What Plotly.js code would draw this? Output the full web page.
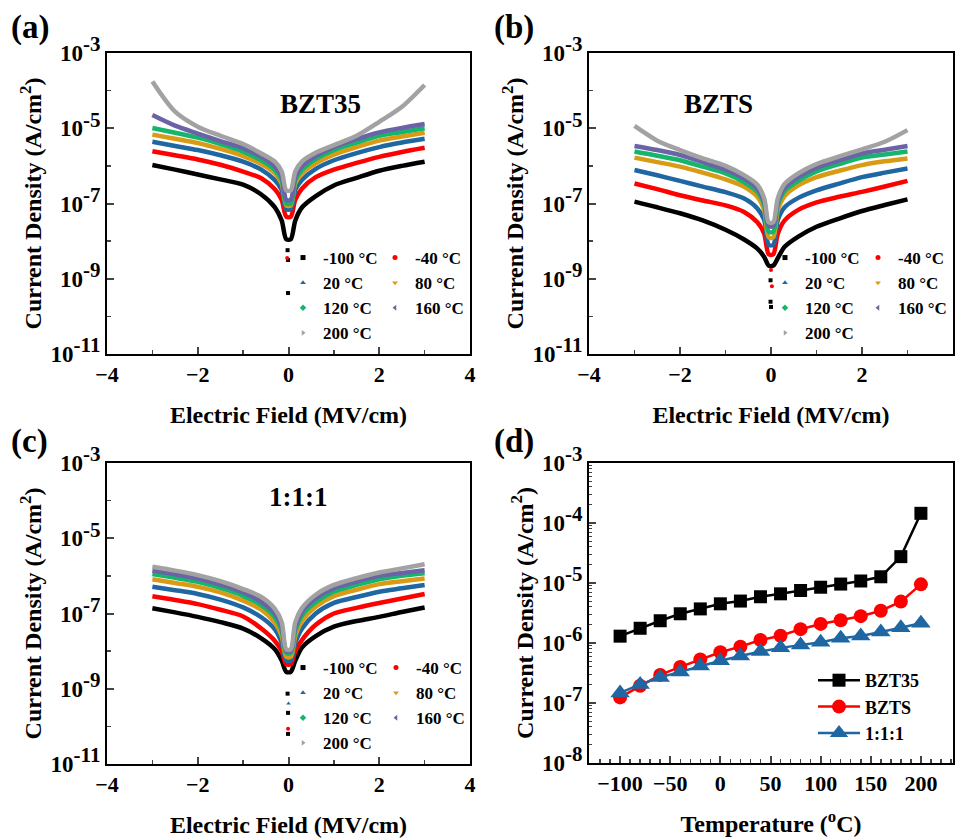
<!DOCTYPE html>
<html><head><meta charset="utf-8">
<script src="https://cdn.plot.ly/plotly-3.0.1.min.js"></script>
<style>body{margin:0;background:#fff}#chart{width:955px;height:840px}</style>
</head><body><div id="chart"></div>
<script>
// ---------- data ----------
const temps = ["-100 °C","-40 °C","20 °C","80 °C","120 °C","160 °C","200 °C"];
const fieldE = [-3,-2.5,-2,-1.5,-1,-0.6,-0.3,-0.15,-0.05,0.05,0.15,0.3,0.6,1,1.5,2,2.5,3];

// (a) BZT35
const jA_m100 = [1.05e-6,7.94e-7,5.89e-7,4.37e-7,3.16e-7,1.74e-7,7.94e-8,3.55e-8,1.12e-8,1.12e-8,3.55e-8,7.94e-8,1.58e-7,3.02e-7,4.79e-7,7.41e-7,1.0e-6,1.29e-6];
const jA_m40  = [2.45e-6,1.91e-6,1.48e-6,1.07e-6,7.08e-7,4.68e-7,2.40e-7,1.26e-7,4.47e-8,4.47e-8,1.26e-7,2.51e-7,5.01e-7,7.94e-7,1.20e-6,1.74e-6,2.34e-6,3.02e-6];
const jA_20   = [4.37e-6,3.39e-6,2.63e-6,1.91e-6,1.29e-6,7.94e-7,4.17e-7,2.29e-7,7.08e-8,7.08e-8,2.29e-7,4.27e-7,8.32e-7,1.41e-6,2.19e-6,3.16e-6,4.17e-6,5.25e-6];
const jA_80   = [6.76e-6,5.25e-6,4.07e-6,2.82e-6,1.82e-6,1.12e-6,6.31e-7,3.39e-7,8.91e-8,8.91e-8,3.39e-7,6.31e-7,1.17e-6,2.0e-6,3.16e-6,4.68e-6,6.03e-6,7.59e-6];
const jA_120  = [1.02e-5,7.59e-6,5.62e-6,3.80e-6,2.40e-6,1.41e-6,7.76e-7,4.17e-7,1.0e-7,1.0e-7,4.17e-7,7.94e-7,1.51e-6,2.63e-6,4.17e-6,6.31e-6,7.94e-6,1.0e-5];
const jA_160  = [2.24e-5,1.17e-5,7.24e-6,4.57e-6,2.95e-6,1.74e-6,9.55e-7,5.13e-7,1.26e-7,1.26e-7,5.13e-7,1.0e-6,1.82e-6,3.16e-6,5.13e-6,7.76e-6,1.02e-5,1.29e-5];
const jA_200  = [1.74e-4,2.75e-5,1.10e-5,6.31e-6,3.80e-6,2.14e-6,1.29e-6,7.08e-7,2.24e-7,2.24e-7,7.08e-7,1.32e-6,2.24e-6,3.55e-6,6.31e-6,1.48e-5,3.72e-5,1.41e-4];
const strayA_E = [-0.02,-0.01,-0.01,-0.03];
const strayA_J = [5.75e-9,3.16e-9,4.17e-10,3.55e-9];
const strayA_T = [0,0,0,1];

// (b) BZTS
const jB_m100 = [1.12e-7,7.94e-8,5.50e-8,3.55e-8,2.0e-8,1.12e-8,6.31e-9,3.80e-9,2.24e-9,2.24e-9,3.55e-9,7.08e-9,1.32e-8,2.40e-8,3.98e-8,6.31e-8,9.12e-8,1.29e-7];
const jB_m40  = [3.39e-7,2.40e-7,1.66e-7,1.20e-7,8.91e-8,6.03e-8,3.16e-8,1.58e-8,4.47e-9,4.47e-9,1.58e-8,3.55e-8,6.76e-8,1.07e-7,1.51e-7,2.04e-7,2.82e-7,3.98e-7];
const jB_20   = [7.76e-7,5.62e-7,3.98e-7,2.82e-7,2.0e-7,1.38e-7,7.41e-8,3.63e-8,7.94e-9,7.94e-9,3.63e-8,7.94e-8,1.41e-7,2.24e-7,3.39e-7,5.01e-7,6.61e-7,8.51e-7];
const jB_80   = [1.66e-6,1.26e-6,9.55e-7,6.61e-7,4.37e-7,2.82e-7,1.51e-7,6.61e-8,1.26e-8,1.26e-8,6.61e-8,1.58e-7,3.02e-7,5.01e-7,7.41e-7,1.05e-6,1.32e-6,1.58e-6];
const jB_120  = [2.40e-6,1.86e-6,1.41e-6,9.55e-7,6.31e-7,3.72e-7,2.04e-7,9.12e-8,1.78e-8,1.78e-8,9.12e-8,2.14e-7,3.98e-7,7.08e-7,1.12e-6,1.66e-6,2.0e-6,2.40e-6];
const jB_160  = [3.39e-6,2.63e-6,1.95e-6,1.26e-6,7.94e-7,4.68e-7,2.51e-7,1.12e-7,2.51e-8,2.51e-8,1.12e-7,2.63e-7,5.01e-7,8.91e-7,1.41e-6,2.14e-6,2.69e-6,3.39e-6];
const jB_200  = [1.15e-5,4.68e-6,2.63e-6,1.58e-6,1.0e-6,5.75e-7,3.16e-7,1.38e-7,3.16e-8,3.16e-8,1.38e-7,3.31e-7,6.31e-7,1.12e-6,1.78e-6,2.75e-6,4.37e-6,8.91e-6];
const strayB_E = [-0.01,-0.01,0.0,0.0,0.02];
const strayB_J = [9.12e-10,2.45e-10,1.78e-10,1.70e-9,6.31e-10];
const strayB_T = [0,0,0,1,1];

// (c) 1:1:1
const jC_m100 = [1.38e-7,1.07e-7,8.13e-8,5.89e-8,3.98e-8,2.19e-8,1.12e-8,5.62e-9,2.82e-9,2.82e-9,5.62e-9,1.26e-8,2.51e-8,4.47e-8,6.31e-8,8.13e-8,1.10e-7,1.45e-7];
const jC_m40  = [2.88e-7,2.29e-7,1.78e-7,1.26e-7,8.32e-8,3.98e-8,1.86e-8,1.0e-8,4.47e-9,4.47e-9,1.0e-8,2.0e-8,5.01e-8,1.0e-7,1.41e-7,1.91e-7,2.51e-7,3.31e-7];
const jC_20   = [5.13e-7,4.17e-7,3.31e-7,2.34e-7,1.45e-7,7.94e-8,3.80e-8,1.66e-8,5.62e-9,5.62e-9,1.66e-8,3.98e-8,1.0e-7,1.91e-7,2.75e-7,3.80e-7,4.68e-7,5.75e-7];
const jC_80   = [8.13e-7,6.46e-7,5.13e-7,3.63e-7,2.19e-7,1.26e-7,5.75e-8,2.51e-8,7.08e-9,7.08e-9,2.51e-8,6.31e-8,1.51e-7,2.88e-7,4.27e-7,6.03e-7,7.24e-7,8.51e-7];
const jC_120  = [1.12e-6,8.91e-7,6.92e-7,4.79e-7,2.95e-7,1.66e-7,7.94e-8,3.47e-8,8.91e-9,8.91e-9,3.47e-8,8.91e-8,2.0e-7,3.80e-7,5.75e-7,8.13e-7,1.0e-6,1.17e-6];
const jC_160  = [1.38e-6,1.10e-6,8.51e-7,5.89e-7,3.63e-7,2.04e-7,1.0e-7,4.37e-8,1.0e-8,1.0e-8,4.37e-8,1.12e-7,2.51e-7,4.68e-7,7.08e-7,1.0e-6,1.20e-6,1.41e-6];
const jC_200  = [1.74e-6,1.38e-6,1.05e-6,7.24e-7,4.47e-7,2.75e-7,1.32e-7,5.89e-8,1.12e-8,1.12e-8,5.89e-8,1.41e-7,3.16e-7,5.75e-7,8.71e-7,1.23e-6,1.58e-6,2.04e-6];
const strayC_E = [-0.02,-0.01,-0.01,-0.01,0.0];
const strayC_J = [7.41e-10,2.29e-10,6.31e-11,8.71e-11,4.07e-10];
const strayC_T = [0,0,0,1,2];

// (d) leakage vs temperature
const tempC  = [-100,-80,-60,-40,-20,0,20,40,60,80,100,120,140,160,180,200];
const dBZT35 = [1.3e-6,1.76e-6,2.35e-6,3.07e-6,3.7e-6,4.5e-6,5.0e-6,5.9e-6,6.6e-6,7.5e-6,8.5e-6,9.6e-6,1.08e-5,1.27e-5,2.75e-5,1.45e-4];
const dBZTS  = [1.24e-7,1.94e-7,2.94e-7,4.0e-7,5.3e-7,7.0e-7,8.7e-7,1.12e-6,1.32e-6,1.7e-6,2.08e-6,2.4e-6,2.8e-6,3.45e-6,4.9e-6,9.5e-6];
const d111   = [1.47e-7,2.04e-7,2.67e-7,3.3e-7,4.15e-7,5.07e-7,6.05e-7,7.2e-7,8.3e-7,9.3e-7,1.03e-6,1.2e-6,1.31e-6,1.52e-6,1.8e-6,2.14e-6];
const dNames = ["BZT35","BZTS","1:1:1"];

const yTickValsABC = [1e-11,1e-9,1e-7,1e-5,1e-3];
const yExpABC = ["-11","-9","-7","-5","-3"];
const yTickValsD = [1e-8,1e-7,1e-6,1e-5,1e-4,1e-3];
const yExpD = ["-8","-7","-6","-5","-4","-3"];

// ---------- styling ----------
const FONT = '"Liberation Serif", serif';
const colors = ["#000000","#ff0000","#1f67a3","#d99b16","#15b56c","#6a63a6","#a2a2a2"];
const symbols = ["square","circle","triangle-up","triangle-down","diamond","triangle-left","triangle-right"];
const powLabel = e => "10<sup><span style=\"font-size:21px\">" + e + "</span></sup>";

const traces = [];
const panels = [
  {ax:"x", ay:"y", series:[jA_m100,jA_m40,jA_20,jA_80,jA_120,jA_160,jA_200], sE:strayA_E, sJ:strayA_J, sT:strayA_T, legs:["legend","legend2"]},
  {ax:"x2", ay:"y2", series:[jB_m100,jB_m40,jB_20,jB_80,jB_120,jB_160,jB_200], sE:strayB_E, sJ:strayB_J, sT:strayB_T, legs:["legend3","legend4"]},
  {ax:"x3", ay:"y3", series:[jC_m100,jC_m40,jC_20,jC_80,jC_120,jC_160,jC_200], sE:strayC_E, sJ:strayC_J, sT:strayC_T, legs:["legend5","legend6"]}
];
panels.forEach(p => {
  p.series.forEach((s, i) => {
    traces.push({x: fieldE, y: s, xaxis: p.ax, yaxis: p.ay, mode: "lines",
      line: {color: colors[i], width: 4.5, shape: "spline", smoothing: 0.8},
      showlegend: false, hoverinfo: "skip"});
  });
  traces.push({x: p.sE, y: p.sJ, xaxis: p.ax, yaxis: p.ay, mode: "markers",
    marker: {color: p.sT.map(t => colors[t]), symbol: p.sT.map(t => symbols[t]), size: 4},
    showlegend: false, hoverinfo: "skip"});
  temps.forEach((t, i) => {
    traces.push({x: [null], y: [null], xaxis: p.ax, yaxis: p.ay, mode: "markers", name: t,
      marker: {color: colors[i], symbol: symbols[i], size: 5},
      legend: (i % 2 === 0) ? p.legs[0] : p.legs[1], showlegend: true});
  });
});
const dSeries = [dBZT35, dBZTS, d111];
const dColors = ["#000000","#ff0000","#1f67a3"];
const dSymbols = ["square","circle","triangle-up"];
const dSizes = [13,14,17];
dSeries.forEach((s, i) => {
  traces.push({x: tempC, y: s, xaxis: "x4", yaxis: "y4", mode: "lines+markers", name: dNames[i],
    line: {color: dColors[i], width: 2.5},
    marker: {color: dColors[i], symbol: dSymbols[i], size: dSizes[i]},
    legend: "legend7"});
});

const tickFont = {family: FONT, size: 22, color: "#000", weight: "bold"};
const yTickFont = {family: FONT, size: 23, color: "#000", weight: "bold"};
const titleFont = {family: FONT, size: 24, color: "#000", weight: "bold"};
const W = 955, H = 840;
const dx = (a, b) => [a / W, b / W];
const dy = (top, bot) => [1 - bot / H, 1 - top / H];

function xE(domain, anchor) {
  return {domain, anchor, range: [-4, 4], dtick: 2, tick0: 0, ticks: "inside", ticklen: 7, tickwidth: 2,
    minor: {ticks: "inside", ticklen: 4, tickwidth: 1.5, dtick: 1, tick0: 0},
    showline: true, linewidth: 2, linecolor: "#000", mirror: true, showgrid: false, zeroline: false,
    tickfont: tickFont, title: {text: "Electric Field (MV/cm)", font: titleFont, standoff: 20}};
}
function yJ(domain, anchor) {
  return {domain, anchor, type: "log", range: [-11, -3], tickmode: "array", tickvals: yTickValsABC, ticktext: yExpABC.map(powLabel),
    ticks: "inside", ticklen: 7, tickwidth: 2,
    minor: {ticks: "inside", ticklen: 4, tickwidth: 1.5, dtick: 1},
    showline: true, linewidth: 2, linecolor: "#000", mirror: true, showgrid: false, zeroline: false,
    tickfont: yTickFont, title: {text: "Current Density (A/cm<sup>2</sup>)", font: titleFont, standoff: 2}};
}
const legBase = {bgcolor: "rgba(0,0,0,0)", borderwidth: 0, font: {family: FONT, size: 17, color: "#000", weight: "bold"},
  xanchor: "left", yanchor: "top", orientation: "v"};

const layout = {
  width: W, height: H, margin: {l: 0, r: 0, t: 0, b: 0},
  paper_bgcolor: "#fff", plot_bgcolor: "#fff", showlegend: true,
  xaxis: xE(dx(107, 470), "y"),
  yaxis: yJ(dy(53, 354), "x"),
  xaxis2: xE(dx(589, 953), "y2"),
  yaxis2: yJ(dy(53, 354), "x2"),
  xaxis3: xE(dx(107, 470), "y3"),
  yaxis3: yJ(dy(463, 764), "x3"),
  xaxis4: {domain: dx(589, 953), anchor: "y4", range: [-131, 232], dtick: 50, tick0: 0, ticks: "inside", ticklen: 7, tickwidth: 2,
    minor: {ticks: "inside", ticklen: 4, tickwidth: 1.5, dtick: 10},
    showline: true, linewidth: 2, linecolor: "#000", mirror: true, showgrid: false, zeroline: false,
    tickfont: tickFont, title: {text: "Temperature (<sup>o</sup>C)", font: titleFont, standoff: 20}},
  yaxis4: {domain: dy(463, 763), anchor: "x4", type: "log", range: [-8, -3], tickmode: "array", tickvals: yTickValsD, ticktext: yExpD.map(powLabel),
    ticks: "inside", ticklen: 7, tickwidth: 2,
    minor: {ticks: "inside", ticklen: 3, tickwidth: 1, dtick: "D1"},
    showline: true, linewidth: 2, linecolor: "#000", mirror: true, showgrid: false, zeroline: false,
    tickfont: yTickFont, title: {text: "Current Density (A/cm<sup>2</sup>)", font: titleFont, standoff: 2}},
  legend:  Object.assign({}, legBase, {x: 283 / W, y: 1 - 240 / H}),
  legend2: Object.assign({}, legBase, {x: 375 / W, y: 1 - 240 / H}),
  legend3: Object.assign({}, legBase, {x: 765 / W, y: 1 - 240 / H}),
  legend4: Object.assign({}, legBase, {x: 858 / W, y: 1 - 240 / H}),
  legend5: Object.assign({}, legBase, {x: 283 / W, y: 1 - 650 / H}),
  legend6: Object.assign({}, legBase, {x: 376 / W, y: 1 - 650 / H}),
  legend7: Object.assign({}, legBase, {x: 813 / W, y: 1 - 662 / H, itemwidth: 42, font: {family: FONT, size: 18, color: "#000", weight: "bold"}}),
  annotations: [
    {text: "(a)", x: 9 / W, y: 1 - 28 / H, xref: "paper", yref: "paper", xanchor: "left", yanchor: "middle", showarrow: false, font: {family: FONT, size: 33, weight: "bold", color: "#000"}},
    {text: "(b)", x: 492 / W, y: 1 - 28 / H, xref: "paper", yref: "paper", xanchor: "left", yanchor: "middle", showarrow: false, font: {family: FONT, size: 33, weight: "bold", color: "#000"}},
    {text: "(c)", x: 9 / W, y: 1 - 441 / H, xref: "paper", yref: "paper", xanchor: "left", yanchor: "middle", showarrow: false, font: {family: FONT, size: 33, weight: "bold", color: "#000"}},
    {text: "(d)", x: 492 / W, y: 1 - 441 / H, xref: "paper", yref: "paper", xanchor: "left", yanchor: "middle", showarrow: false, font: {family: FONT, size: 33, weight: "bold", color: "#000"}},
    {text: "BZT35", x: 278 / W, y: 1 - 87 / H, xref: "paper", yref: "paper", showarrow: false, font: {family: FONT, size: 27, weight: "bold", color: "#000"}},
    {text: "BZTS", x: 755 / W, y: 1 - 87 / H, xref: "paper", yref: "paper", showarrow: false, font: {family: FONT, size: 27, weight: "bold", color: "#000"}},
    {text: "1:1:1", x: 267 / W, y: 1 - 497 / H, xref: "paper", yref: "paper", showarrow: false, font: {family: FONT, size: 27, weight: "bold", color: "#000"}}
  ]
};
Plotly.newPlot("chart", traces, layout, {staticPlot: true, displayModeBar: false});
</script></body></html>
